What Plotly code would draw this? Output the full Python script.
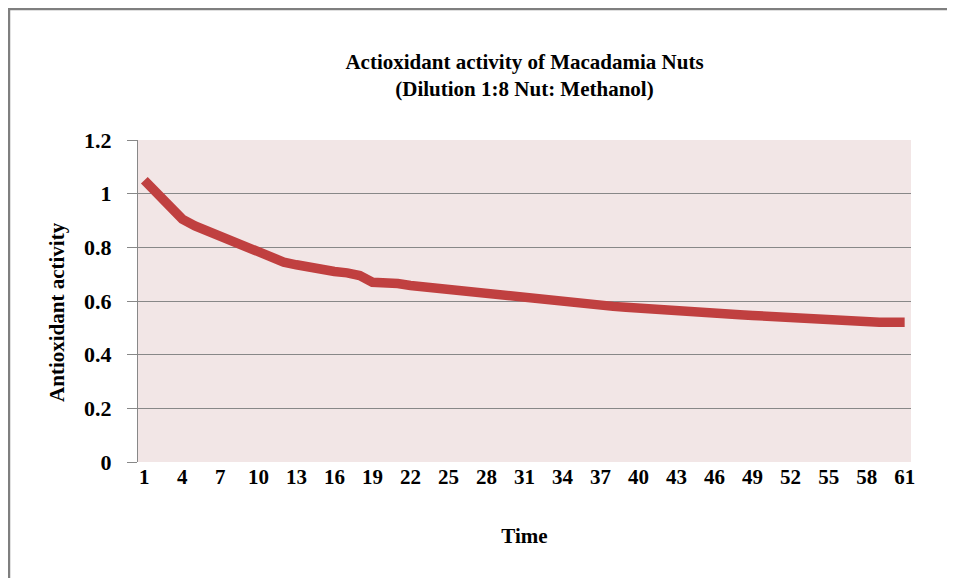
import plotly.graph_objects as go

time = list(range(1, 62))
activity = [
    1.05, 1.00, 0.95, 0.905, 0.88, 0.86, 0.84, 0.82, 0.80, 0.78,
    0.76, 0.745, 0.735, 0.725, 0.718, 0.71, 0.705, 0.695, 0.67, 0.67,
    0.665, 0.658, 0.653, 0.648, 0.643, 0.638, 0.634, 0.629, 0.622, 0.614,
    0.608, 0.603, 0.598, 0.594, 0.591, 0.588, 0.585, 0.58, 0.577, 0.573,
    0.57, 0.567, 0.564, 0.562, 0.56, 0.556, 0.552, 0.549, 0.546, 0.543,
    0.54, 0.538, 0.536, 0.533, 0.53, 0.525, 0.521, 0.52, 0.521, 0.521, 0.521,
]
x_ticks = list(range(1, 62, 3))
y_ticks = [0, 0.2, 0.4, 0.6, 0.8, 1, 1.2]
y_tick_text = ["0", "0.2", "0.4", "0.6", "0.8", "1", "1.2"]

FONT = "Liberation Serif"
FS = 21

fig = go.Figure()
fig.add_trace(go.Scatter(
    x=time, y=activity, mode="lines",
    line=dict(color="#c04040", width=9.5, shape="linear"),
    showlegend=False, hoverinfo="x+y",
))

fig.update_layout(
    width=947, height=570,
    margin=dict(l=130, r=44, t=132, b=116),
    paper_bgcolor="white",
    plot_bgcolor="#f2e6e6",
    font=dict(family=FONT, size=FS, color="black"),
    title=dict(
        text="<b>Actioxidant activity of Macadamia Nuts<br>(Dilution 1:8 Nut: Methanol)</b>",
        x=0.5, xref="paper", xanchor="center",
        yref="container", y=0.893, yanchor="top",
        font=dict(family=FONT, size=FS, color="black"),
    ),
    xaxis=dict(
        range=[0.5, 61.5],
        tickmode="array", tickvals=x_ticks,
        ticktext=[f"<b>{t}</b>" for t in x_ticks],
        showgrid=False, zeroline=False,
        showline=False,
        ticks="", ticklen=0,
        tickfont=dict(family=FONT, size=FS, color="black"),
        title=dict(text="<b>Time</b>", standoff=40,
                   font=dict(family=FONT, size=FS, color="black")),
        fixedrange=True,
    ),
    yaxis=dict(
        range=[0, 1.2],
        tickmode="array", tickvals=y_ticks,
        ticktext=[f"<b>{t}</b>" for t in y_tick_text],
        showgrid=True, gridcolor="#888888", gridwidth=1.3,
        zeroline=False,
        showline=True, linecolor="#888888", linewidth=1.3,
        ticks="outside", ticklen=10, tickcolor="#888888", tickwidth=1.3,
        ticklabelstandoff=11,
        tickfont=dict(family=FONT, size=22, color="black"),
        fixedrange=True,
    ),
    annotations=[
        dict(text="<b>Antioxidant activity</b>", textangle=-90,
             xref="paper", yref="paper", x=-0.1048, y=0.466,
             xanchor="center", yanchor="middle", showarrow=False,
             font=dict(family=FONT, size=FS, color="black")),
    ],
    shapes=[
        dict(type="rect", xref="paper", yref="paper",
             x0=-0.1669, x1=1.061, y0=-0.376, y1=1.4068,
             line=dict(color="#7f7f7f", width=2.5), layer="below"),
    ],
)

fig.write_html("out.html")
